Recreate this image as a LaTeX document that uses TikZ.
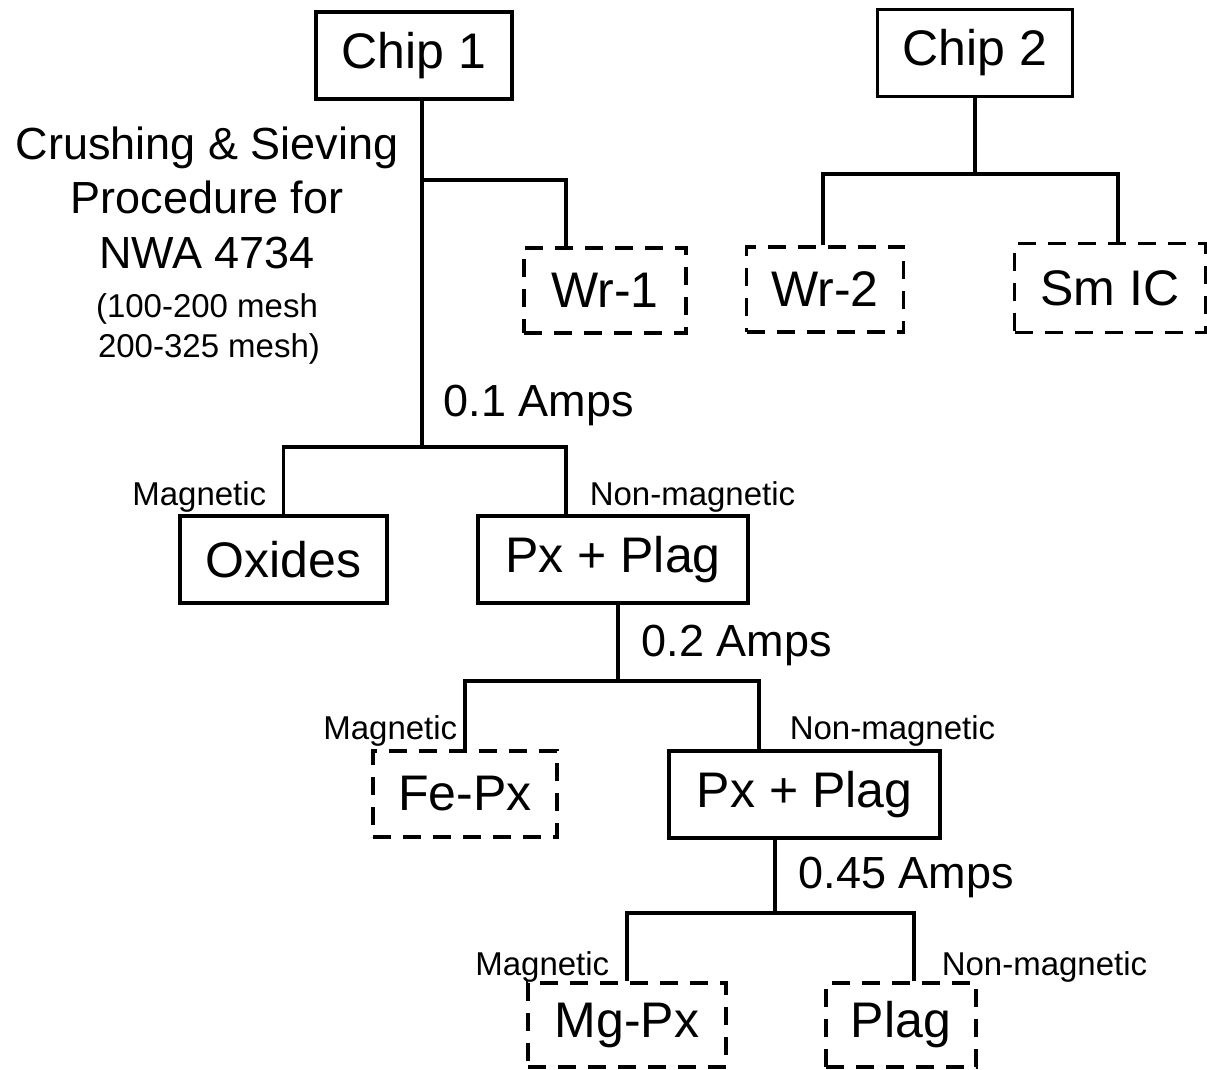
\documentclass[tikz,border=0pt]{standalone}
\usepackage{fontspec}
\setmainfont{Liberation Sans}
\begin{document}
\begin{tikzpicture}[x=1pt, y=-1pt, line width=3.5pt,
    solidbox/.style={draw, inner sep=0pt, minimum height=87pt, font=\fontsize{50}{60}\selectfont},
    dashbox/.style={solidbox, dash pattern=on 18pt off 12pt},
    amps/.style={anchor=base west, inner sep=0pt, font=\fontsize{45}{54}\selectfont},
    side/.style={inner sep=0pt, font=\fontsize{33}{40}\selectfont}]
\useasboundingbox (0,0) rectangle (1207,1070);
% boxes
\node[solidbox, minimum width=196pt] (chipA) at (414,55.5) {Chip 1};
\node[solidbox, minimum width=195pt] (chipB) at (975,53) {Chip 2};
\node[dashbox, minimum width=162pt, minimum height=85pt] (wrA) at (605,290.5) {Wr-1};
\node[dashbox, minimum width=157pt, minimum height=85pt] (wrB) at (825,289.5) {Wr-2};
\node[dashbox, minimum width=191pt, minimum height=89pt] (smic) at (1110,288) {Sm IC};
\node[solidbox, minimum width=207pt] (oxides) at (283.5,559.5) {Oxides};
\node[solidbox, minimum width=270pt] (pxA) at (613,559.5) {Px + Plag};
\node[dashbox, minimum width=184pt, minimum height=86pt] (fepx) at (465,794) {Fe-Px};
\node[solidbox, minimum width=271pt] (pxB) at (804.5,794.5) {Px + Plag};
\node[dashbox, minimum width=198pt, minimum height=84pt] (mgpx) at (627,1025) {Mg-Px};
\node[dashbox, minimum width=150pt, minimum height=84pt] (plag) at (901,1025) {Plag};
% title text
\node[amps, anchor=base] (proc1) at (207,160) {Crushing \& Sieving};
\node[amps, anchor=base] (proc2) at (207,213) {Procedure for};
\node[amps, anchor=base] (proc3) at (207,268) {NWA 4734};
\node[side, anchor=base] (mesh1) at (207,317) {(100-200 mesh};
\node[side, anchor=base] (mesh2) at (209,357) {200-325 mesh)};
% junctions
\coordinate (s1) at (422,180);
\coordinate (j1) at (422,447);
\coordinate (j2) at (618,681);
\coordinate (j3) at (775,913);
\coordinate (j4) at (975,174);
% lines
\draw (chipA.south -| j1) -- (j1);
\draw (s1) -| ([xshift=-39pt]wrA.north);
\draw (j1) -| (oxides.north);
\draw (j1) -| ([xshift=-47pt]pxA.north);
\draw ([xshift=5pt]pxA.south) -- (j2);
\draw (j2) -| (fepx.north);
\draw (j2) -| ([xshift=-45.5pt]pxB.north);
\draw ([xshift=-29.5pt]pxB.south) -- (j3);
\draw (j3) -| (mgpx.north);
\draw (j3) -| ([xshift=13pt]plag.north);
\draw (chipB.south) -- (j4);
\draw (j4) -| ([xshift=-2pt]wrB.north);
\draw (j4) -| ([xshift=8pt]smic.north);
% labels
\node[amps] (ampA) at (442,416) {0.1 Amps};
\node[amps] (ampB) at (640,656) {0.2 Amps};
\node[amps] (ampC) at (797,888) {0.45 Amps};
\node[side, anchor=base east] (magA) at (268,505) {Magnetic};
\node[side, anchor=base west] (nonA) at (588,505) {Non-magnetic};
\node[side, anchor=base east] (magB) at (459,739) {Magnetic};
\node[side, anchor=base west] (nonB) at (788,739) {Non-magnetic};
\node[side, anchor=base east] (magC) at (611,975) {Magnetic};
\node[side, anchor=base west] (nonC) at (940,975) {Non-magnetic};
\end{tikzpicture}
\end{document}
